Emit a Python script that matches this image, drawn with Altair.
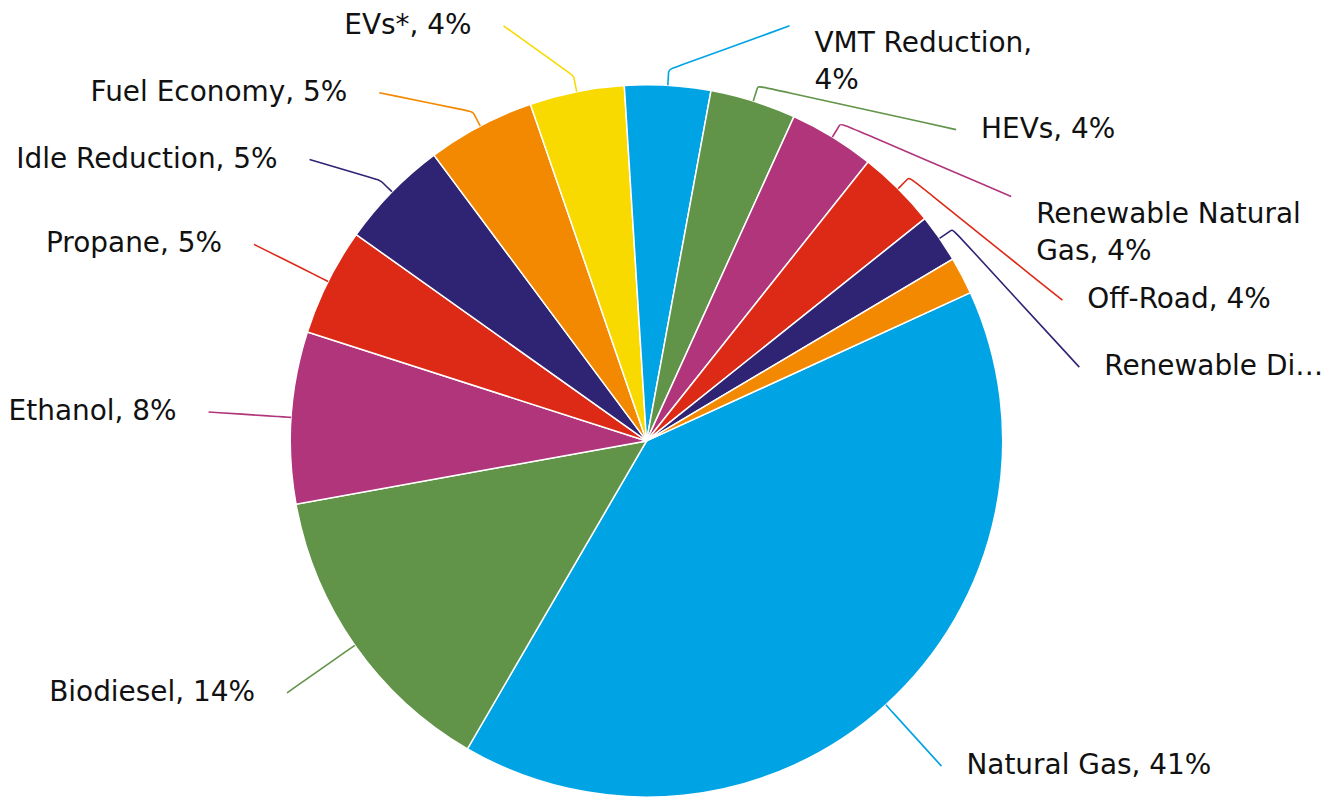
import math
import altair as alt
import pandas as pd

# ---- data ----
names = ["Natural Gas", "Biodiesel", "Ethanol", "Propane", "Idle Reduction",
         "Fuel Economy", "EVs*", "VMT Reduction", "HEVs", "Renewable Natural Gas",
         "Off-Road", "Renewable Diesel", "Other"]
shares = [40.3, 13.8, 7.8, 4.9, 5.0, 4.9, 4.3, 3.9, 3.9, 3.9, 3.6, 2.2, 1.7]
labels = ["Natural Gas, 41%", "Biodiesel, 14%", "Ethanol, 8%", "Propane, 5%",
          "Idle Reduction, 5%", "Fuel Economy, 5%", "EVs*, 4%", "VMT Reduction,\n4%",
          "HEVs, 4%", "Renewable Natural\nGas, 4%", "Off-Road, 4%",
          "Renewable Diesel, 2%", ""]
colors = ["#00A3E4", "#619348", "#B0357A", "#DD2A16", "#2F2474", "#F38900", "#F8DA00",
          "#00A3E4", "#619348", "#B0357A", "#DD2A16", "#2F2474", "#F38900"]

# ---- layout constants ----
W, H = 1316, 784
CX, CY = 637, 433
R = 357
RL = 440
LH = 37
PAD = 30
TOP = 17
OFF_LEFT = 32
OFF_RIGHT = 25
FONT = "DejaVu Sans"
FS = 28
START = math.radians(65.4)

total = sum(shares)
mids = []
cum = 0.0
for s in shares:
    mids.append(START + 2 * math.pi * (cum + s / 2) / total)
    cum += s


def pt(a, r):
    return CX + r * math.sin(a), CY - r * math.cos(a)


# label anchors: natural radial position, pushed down to avoid overlap
anchors = {}
for side in (1, -1):
    idxs = [i for i in range(len(names)) if labels[i] and (math.sin(mids[i]) > 0) == (side == 1)]
    idxs.sort(key=lambda i: pt(mids[i], RL)[1])
    prev_y, prev_lines = None, 0
    for i in idxs:
        y = max(pt(mids[i], RL)[1], TOP)
        if prev_y is not None:
            y = max(y, prev_y + LH * prev_lines + PAD)
        dy = y - CY
        dx = math.sqrt(max(RL * RL - dy * dy, 0.0))
        anchors[i] = (CX + side * dx, y, side)
        prev_y, prev_lines = y, labels[i].count("\n") + 1

pie_df = pd.DataFrame({"name": names, "share": shares, "idx": list(range(len(names)))})

line_rows, text_rows = [], []
for i, (ax, ay, side) in anchors.items():
    p0 = pt(mids[i], R)
    p1 = pt(mids[i], R + 16)
    for k, (px, py) in enumerate([p0, p1, p1, (ax, ay)]):
        line_rows.append({"name": names[i], "ord": k, "x": px, "y": py})
    n = labels[i].count("\n") + 1
    off = OFF_RIGHT if side == 1 else OFF_LEFT
    text_rows.append({"name": names[i], "label": labels[i],
                      "tx": ax + side * off, "ty": ay + (n - 1) * LH / 2,
                      "side": "R" if side == 1 else "L"})
line_df = pd.DataFrame(line_rows)
text_df = pd.DataFrame(text_rows)

xs = alt.Scale(domain=[0, W], range=[0, W])
ys = alt.Scale(domain=[0, H], range=[0, H])
cs = alt.Scale(domain=names, range=colors)

arcs = alt.Chart(pie_df).mark_arc(outerRadius=R, stroke="white", strokeWidth=1.5).encode(
    theta=alt.Theta("share:Q", stack=True, scale=alt.Scale(range=[START, START + 2 * math.pi])),
    color=alt.Color("name:N", scale=cs, legend=None),
    order=alt.Order("idx:Q"),
    x=alt.value(CX),
    y=alt.value(CY),
)

lines = alt.Chart(line_df).mark_line(interpolate="basis", strokeWidth=1.6).encode(
    x=alt.X("x:Q", scale=xs, axis=None),
    y=alt.Y("y:Q", scale=ys, axis=None),
    color=alt.Color("name:N", scale=cs, legend=None),
    detail="name:N",
    order=alt.Order("ord:Q"),
)

def text_layer(flt, align, **kw):
    return alt.Chart(text_df).transform_filter(flt).mark_text(
        align=align, baseline="middle", font=FONT, fontSize=FS, color="#111111",
        lineBreak="\n", lineHeight=LH, **kw
    ).encode(
        x=alt.X("tx:Q", scale=xs, axis=None),
        y=alt.Y("ty:Q", scale=ys, axis=None),
        text="label:N",
    )

t_left = text_layer("datum.side == 'L'", "right")
t_right = text_layer("datum.side == 'R' && datum.name != 'Renewable Diesel'", "left")
t_trunc = text_layer("datum.name == 'Renewable Diesel'", "left", limit=221)

chart = alt.layer(arcs, lines, t_left, t_right, t_trunc).properties(
    width=W, height=H, padding=0, background="white"
).configure_view(stroke=None)

chart.save("out.html", embed_options={"renderer": "svg", "actions": False})
